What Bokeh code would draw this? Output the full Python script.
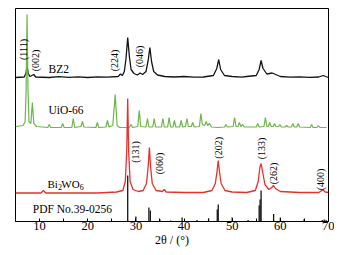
from bokeh.plotting import figure
from bokeh.models import FixedTicker, Range1d, Label
from bokeh.core.properties import value
from bokeh.embed import file_html
from bokeh.resources import INLINE
import math

# ---------------- data ----------------
# BZ2 pattern (2theta, offset intensity)
bz2_x = [5, 6.8, 7.15, 7.4, 7.65, 8.0, 8.8, 9.2, 12, 14, 16, 18, 20, 22, 24, 26.3, 26.8, 27.2,
         27.6, 27.95, 28.3, 28.65, 29.0, 29.6, 30.3, 30.9, 31.4, 32.1, 32.55, 32.9, 33.25, 33.7,
         34.5, 36, 38, 40, 42, 44, 46.1, 46.8, 47.2, 47.6, 48.4, 50, 52, 53, 55, 55.6, 56.0, 56.4,
         57.2, 58.3, 58.8, 60, 62, 64, 66, 68, 68.9, 69.4, 70]
bz2_y = [144, 144.5, 148, 155, 148, 145, 147, 144.5, 144, 144.8, 144.2, 144.6, 144, 144.7, 144.3, 145, 147.5, 146,
         150, 163, 184, 165, 152, 148, 146.5, 148.5, 147, 150, 161, 174, 160, 150,
         146.5, 145, 144.5, 145, 144.3, 144.5, 146, 153, 162, 152, 146, 145, 144.4, 145, 146, 152, 161, 153,
         147.5, 148.5, 147.5, 145, 144.3, 144.6, 144.2, 144.5, 146, 145, 144]

# UiO-66 pattern
uio_x = [5, 6.6, 7.0, 7.2, 7.4, 7.6, 7.8, 8.2, 8.5, 8.8, 9.4, 11.7, 12.0, 12.3, 14.5, 14.8, 15.1,
         16.7, 17.0, 17.3, 18.6, 18.9, 19.2, 21.7, 22.0, 22.3, 23.8, 24.1, 24.4, 25.2, 25.7, 26.1,
         26.6, 28.6, 29.0, 29.3, 30.4, 30.7, 31.0, 32.1, 32.4, 32.7, 33.5, 33.8, 34.1, 35.3, 35.6,
         35.9, 36.6, 36.9, 37.2, 37.7, 38.0, 38.3, 39.1, 39.4, 39.7, 40.3, 40.6, 40.9, 41.5, 41.8,
         42.1, 43.2, 43.5, 43.8, 44.3, 44.6, 44.9, 45.3, 45.7, 47.0, 48.4, 48.7, 49.0, 50.2, 50.5,
         50.8, 51.2, 51.5, 51.8, 52.2, 52.5, 55.0, 55.3, 55.6, 56.6, 56.9, 57.2, 57.5, 57.8, 58.1,
         58.5, 58.8, 59.1, 59.6, 59.9, 60.2, 61.0, 61.3, 61.6, 62.3, 62.6, 62.9, 63.4, 63.7, 64.0,
         66.2, 66.5, 66.8, 67.6, 67.9, 68.2, 69.6]
uio_y = [95, 96, 100, 130, 207, 130, 100, 98, 119, 98, 95, 94, 97, 94, 94, 98, 94,
         94, 103, 94, 95, 100, 94.5, 94, 99, 94, 94.5, 101, 94.5, 96, 127, 96,
         94, 94, 97, 94, 95, 111, 95, 94.5, 103, 94.5, 94.5, 103, 94.5, 94.5, 103,
         94.5, 94.5, 104, 94.5, 94.5, 101, 94.5, 94.5, 101, 94.5, 95, 103, 95, 95, 99,
         94.5, 95, 108, 97, 96, 100, 96, 98, 94.5, 94, 94.5, 97, 94.5, 95, 104,
         95, 95, 99, 95, 97, 94.5, 94.5, 98, 94.5, 95, 104, 95, 95, 99, 95,
         95, 98, 95, 95, 97, 94.5, 94.5, 96, 94.5, 94.5, 98, 94.5, 94.5, 98, 94.5,
         94, 97, 94, 94, 96, 94, 94]

# Bi2WO6 pattern
bwo_x = [5, 10.3, 10.8, 11.3, 16, 22, 26, 27.3, 27.8, 28.1, 28.3, 28.5, 28.8, 29.4, 30.5, 31.5,
         32.2, 32.55, 32.8, 33.05, 33.4, 34.2, 35.5, 35.9, 36.3, 40, 44, 45.8, 46.5, 46.85, 47.1,
         47.35, 47.7, 48.5, 50, 53, 54.8, 55.4, 55.75, 56.0, 56.3, 56.8, 57.6, 58.2, 58.6, 59.0,
         60, 64, 68, 68.6, 68.9, 69.3, 70]
bwo_y = [28.5, 28.5, 31, 28.5, 28.5, 28.5, 29.5, 31, 40, 70, 123, 70, 40, 32, 30, 31,
         38, 55, 74, 55, 38, 31, 30, 32, 29.5, 29, 29, 31, 38, 50, 61,
         50, 38, 31, 29.5, 29, 31, 40, 54, 58, 50, 37, 32, 34, 36, 33,
         30, 29, 29, 31, 31.5, 29.5, 29]

# PDF No.39-0256 reference lines
pdf_pos = [28.3, 30.0, 32.7, 33.0, 35.0, 37.2, 39.6, 42.7, 45.1, 46.9, 47.1, 50.0, 53.3,
           55.6, 55.8, 56.0, 58.6, 60.0, 64.9, 68.7, 69.1, 69.5]
pdf_h = [46, 5, 14, 11, 2, 1, 4, 1.5, 3, 12, 17, 4, 1.5, 16, 22, 31, 7.5, 4, 2, 1.5, 2, 1.5]

# Miller index labels
hkl_text = ["(111)", "(002)", "(224)", "(046)", "(131)", "(060)", "(202)", "(133)", "(262)", "(400)"]
hkl_x = [6.65, 9.15, 25.46, 30.65, 29.92, 34.85, 47.06, 56.0, 58.65, 68.4]
hkl_y = [172, 161, 161, 165, 69.5, 58, 73.7, 73, 48, 42]

x_ticks = [10, 20, 30, 40, 50, 60, 70]
x_minor = [5, 15, 25, 35, 45, 55, 65]

# ---------------- figure ----------------
SERIF = "Liberation Serif"
BLACK = "#151515"
GREEN = "#6cb64a"
RED = "#e5312c"

p = figure(output_backend="svg", toolbar_location=None,
           frame_width=313, frame_height=213,
           min_border_left=15, min_border_right=6, min_border_top=8, min_border_bottom=0,
           x_range=Range1d(5, 70), y_range=Range1d(0, 213))
p.background_fill_color = "white"
p.border_fill_color = "white"
p.outline_line_color = "black"
p.outline_line_width = 1
p.xgrid.visible = False
p.ygrid.visible = False
p.yaxis.visible = False

ax = p.xaxis[0]
ax.ticker = FixedTicker(ticks=x_ticks, minor_ticks=x_minor)
ax.major_tick_in = 3
ax.major_tick_out = 0
ax.minor_tick_in = 3
ax.minor_tick_out = 0
ax.major_label_standoff = 0
ax.major_label_text_font = SERIF
ax.major_label_text_font_size = "12.5px"
ax.major_label_text_color = "black"
ax.axis_line_color = "black"
ax.major_tick_line_color = "black"
ax.minor_tick_line_color = "black"
ax.axis_label = "2θ / (°)"
ax.axis_label_standoff = 0
ax.axis_label_text_font = SERIF
ax.axis_label_text_font_size = "12px"
ax.axis_label_text_font_style = "normal"
ax.axis_label_text_color = "black"

p.line(bz2_x, bz2_y, line_color=BLACK, line_width=1.3)
p.line(uio_x, uio_y, line_color=GREEN, line_width=1.2)
p.line(bwo_x, bwo_y, line_color=RED, line_width=1.3)
p.segment(x0=pdf_pos, y0=[0] * len(pdf_pos), x1=pdf_pos, y1=pdf_h, line_color=BLACK, line_width=1.3)

p.text(x=hkl_x, y=hkl_y, text=hkl_text, angle=math.pi / 2, text_align="center",
       text_baseline="middle", text_font=value(SERIF), text_font_size="10px", text_color="black")

def lab(x, y, t, dx=0, dy=0, size="11.5px", style="normal"):
    p.add_layout(Label(x=x, y=y, text=t, x_offset=dx, y_offset=dy, text_font=SERIF,
                       text_font_size=size, text_font_style=style, text_color="black",
                       text_baseline="middle", text_align="left"))

lab(11.85, 153, "BZ2")
lab(11.85, 111.5, "UiO-66")
lab(11.65, 38, "Bi", 0, 0, "11px")
lab(11.65, 38, "2", 10.4, -3, "8px")
lab(11.65, 38, "WO", 13.8, 0, "11px")
lab(11.65, 38, "6", 32.2, -3, "8px")
lab(8.6, 13, "PDF No.39-0256")

open("out.html", "w").write(file_html(p, INLINE))
